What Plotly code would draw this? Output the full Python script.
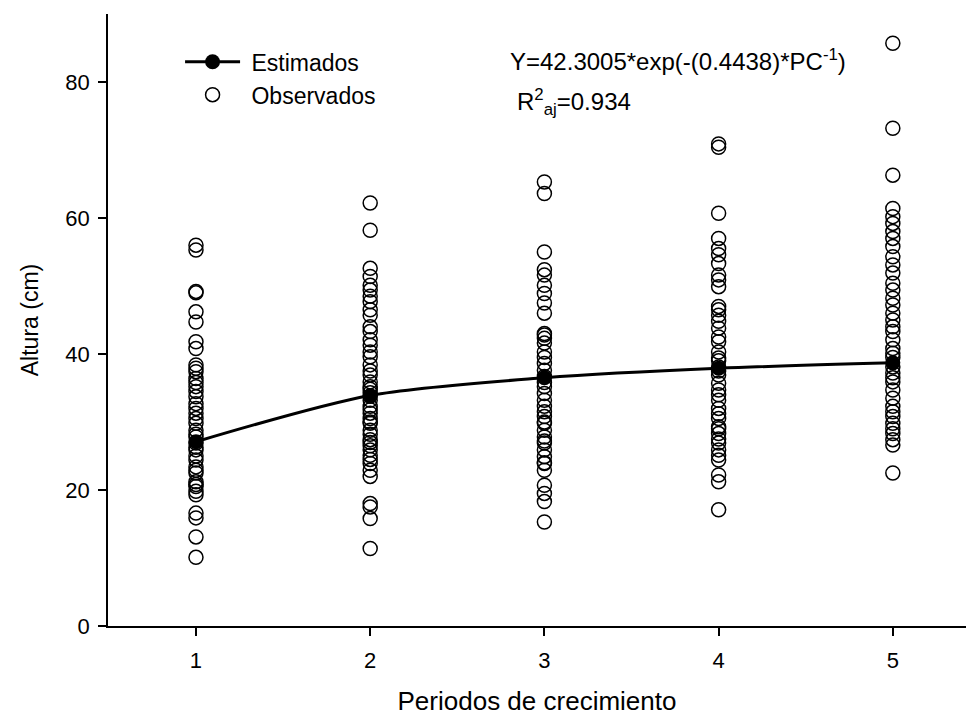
import plotly.graph_objects as go

# ---- data ----
periods = [1, 2, 3, 4, 5]
estimados = [27.1, 33.9, 36.5, 37.9, 38.7]

obs_p1 = [56.0, 55.3, 49.2, 49.0, 46.2, 44.7, 41.8, 40.8, 38.4, 37.9, 37.4, 36.4, 35.8,
          35.2, 34.5, 33.7, 32.7, 32.0, 31.3, 30.5, 29.8, 28.8, 28.2, 27.8, 26.9, 26.3,
          25.9, 25.0, 24.4, 23.4, 22.9, 22.5, 21.2, 20.8, 20.5, 19.8, 19.3, 16.6, 15.9,
          13.1, 10.1]
obs_p2 = [62.2, 58.2, 52.6, 51.4, 50.1, 49.4, 48.5, 47.7, 46.5, 45.7, 44.0, 43.3, 42.1,
          41.3, 40.3, 39.6, 38.4, 37.5, 36.9, 35.9, 35.2, 34.8, 34.3, 33.8, 33.2, 32.3,
          31.8, 31.3, 30.5, 30.0, 29.8, 28.8, 28.2, 27.4, 27.0, 26.5, 25.9, 25.1, 24.5,
          23.9, 22.9, 22.0, 18.0, 17.5, 15.8, 11.4]
obs_p3 = [65.3, 63.6, 55.0, 52.4, 51.6, 50.1, 48.9, 47.5, 46.0, 43.0, 42.8, 42.3, 41.6,
          40.3, 39.5, 38.6, 37.6, 36.7, 35.8, 35.2, 34.2, 33.2, 32.3, 31.5, 30.8, 30.0,
          29.8, 28.8, 27.8, 27.2, 26.9, 25.9, 24.9, 24.0, 23.9, 22.9, 20.7, 19.5, 18.3,
          15.3]
obs_p4 = [70.9, 70.4, 60.7, 57.0, 55.5, 54.6, 53.3, 51.6, 50.9, 49.9, 47.0, 46.5, 45.7,
          44.8, 43.8, 42.5, 41.8, 40.3, 39.4, 39.0, 38.1, 37.5, 36.9, 35.7, 34.7, 34.0,
          33.2, 32.0, 31.2, 30.5, 29.3, 29.0, 28.3, 27.5, 26.9, 25.9, 25.1, 24.4, 22.2,
          21.2, 17.1]
obs_p5 = [85.7, 73.2, 66.3, 61.4, 60.2, 59.2, 58.0, 57.0, 55.8, 54.3, 53.1, 51.9, 50.4,
          49.4, 48.2, 47.2, 46.0, 45.0, 44.0, 43.3, 42.1, 40.8, 40.1, 39.5, 38.1, 37.2,
          36.5, 35.9, 34.7, 33.5, 32.3, 31.5, 30.8, 29.8, 29.0, 28.3, 27.4, 26.6, 22.5]

obs_groups = [obs_p1, obs_p2, obs_p3, obs_p4, obs_p5]
obs_x = []
obs_y = []
for p, vals in zip(periods, obs_groups):
    obs_x += [p] * len(vals)
    obs_y += vals

x_ticks = [1, 2, 3, 4, 5]
y_ticks = [0, 20, 40, 60, 80]

FONT = "Liberation Sans, Arial, sans-serif"
NB = "\u00a0"

fig = go.Figure()
fig.add_trace(go.Scatter(
    x=obs_x, y=obs_y, mode="markers", name=NB + "Observados",
    marker=dict(symbol="circle-open", size=14, color="black", line=dict(width=1.5)),
    legendrank=2,
))
fig.add_trace(go.Scatter(
    x=periods, y=estimados, mode="lines+markers", name=NB + "Estimados",
    line=dict(color="black", width=3, shape="spline", smoothing=0.8),
    marker=dict(symbol="circle", size=15, color="black"),
    legendrank=1,
))

fig.update_layout(
    width=966, height=722,
    margin=dict(l=108, r=0, t=14, b=96),
    paper_bgcolor="white", plot_bgcolor="white",
    font=dict(family=FONT, size=22, color="black"),
    showlegend=True,
    legend=dict(x=0.084, y=0.957, xanchor="left", yanchor="top",
                bgcolor="rgba(0,0,0,0)", font=dict(family=FONT, size=23), itemwidth=55,
                tracegroupgap=0),
    xaxis=dict(range=[0.495, 5.42], tickvals=x_ticks, ticks="outside", ticklen=8,
               tickwidth=1.5, tickcolor="black", showline=True, linecolor="black",
               linewidth=1.5, showgrid=False, zeroline=False,
               tickfont=dict(family=FONT, size=22), ticklabelstandoff=6,
               title=dict(text="Periodos de crecimiento", font=dict(family=FONT, size=26),
                          standoff=20)),
    yaxis=dict(range=[0, 90], tickvals=y_ticks, ticks="outside", ticklen=8,
               tickwidth=1.5, tickcolor="black", showline=True, linecolor="black",
               linewidth=1.5, showgrid=False, zeroline=False,
               tickfont=dict(family=FONT, size=22), ticklabelstandoff=4,
               title=dict(text="Altura (cm)", font=dict(family=FONT, size=23), standoff=20)),
    annotations=[
        dict(x=0.466, y=0.925, xref="paper", yref="paper", xanchor="left",
             yanchor="middle", showarrow=False, font=dict(family=FONT, size=24),
             text="Y=42.3005*exp(-(0.4438)*PC<sup>-1</sup>)"),
        dict(x=0.474, y=0.857, xref="paper", yref="paper", xanchor="left",
             yanchor="middle", showarrow=False, font=dict(family=FONT, size=24),
             text="R<sup>2</sup><sub>aj</sub>=0.934"),
    ],
)

fig.write_html("out.html")
